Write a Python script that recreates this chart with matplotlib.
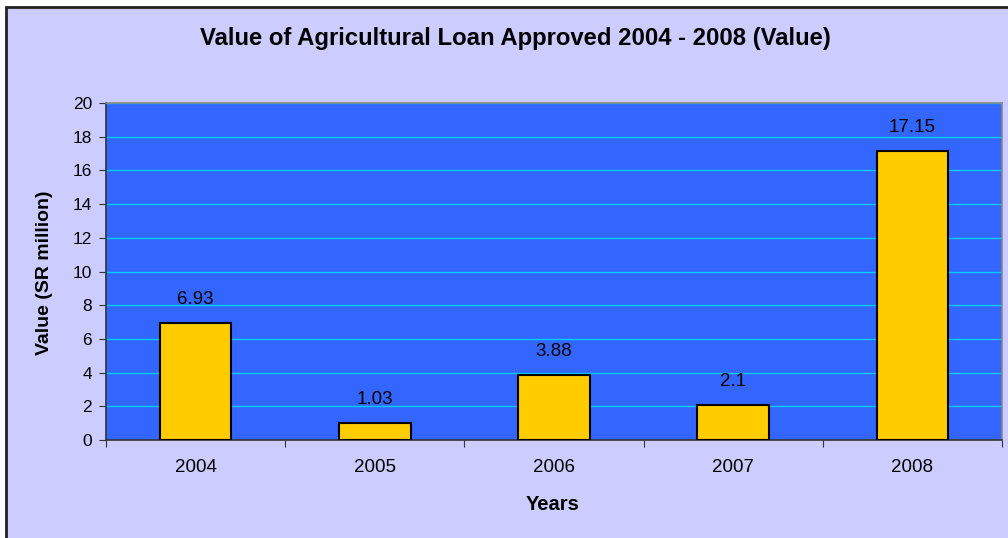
import matplotlib
matplotlib.use("Agg")
import matplotlib.pyplot as plt
from matplotlib.patches import Rectangle

years = ["2004", "2005", "2006", "2007", "2008"]
values = [6.93, 1.03, 3.88, 2.1, 17.15]
labels = ["6.93", "1.03", "3.88", "2.1", "17.15"]
yticks = [0, 2, 4, 6, 8, 10, 12, 14, 16, 18, 20]

W, H = 1008, 538
fig = plt.figure(figsize=(W / 100, H / 100), dpi=100)
fig.patch.set_facecolor("white")
# chart area background with black border (left/top)
bg = Rectangle((6 / W, -0.01), 1.05, (H - 7) / H + 0.01, transform=fig.transFigure,
               facecolor="#CCCCFF", edgecolor="#222222", linewidth=2, zorder=-10)
fig.patches.append(bg)

L, R, T, B = 106, 1002, 103, 440
ax = fig.add_axes([L / W, (H - B) / H, (R - L) / W, (B - T) / H])
ax.set_facecolor("#3366FF")

font = "Liberation Sans"
x = list(range(len(years)))
ax.bar(x, values, width=0.4, color="#FFCC00", edgecolor="black", linewidth=1.5, zorder=3)
for xi, v, lab in zip(x, values, labels):
    ax.annotate(lab, (xi, v), xytext=(0, 17), textcoords="offset points",
                ha="center", va="center", fontsize=13.5, family=font, color="black", zorder=4)

ax.set_xlim(-0.5, len(years) - 0.5)
ax.set_ylim(0, 20)
ax.set_yticks(yticks)
ax.set_yticklabels([str(t) for t in yticks], fontsize=12.5, family=font)
ax.yaxis.grid(True, color="#00CCFF", linewidth=1.0, zorder=1)
ax.set_axisbelow(True)

ax.set_xticks([i - 0.5 for i in range(len(years) + 1)])
ax.set_xticklabels([])
ax.set_xticks(x, minor=True)
ax.set_xticklabels(years, minor=True, fontsize=13.5, family=font)
ax.tick_params(axis="x", which="minor", length=0, pad=14)
ax.tick_params(axis="x", which="major", length=5, color="#333333", direction="out")
ax.tick_params(axis="y", length=5, color="#333333", direction="out", pad=5)

for s in ["left", "bottom"]:
    ax.spines[s].set_color("#333333")
    ax.spines[s].set_linewidth(1.2)
for s in ["top", "right"]:
    ax.spines[s].set_color("#888888")
    ax.spines[s].set_linewidth(1.2)

fig.text(0.5 * (188 + 843) / W, 1 - 45 / H, "Value of Agricultural Loan Approved 2004 - 2008 (Value)",
         ha="center", va="baseline", fontsize=17.2, fontweight="bold", family=font)
fig.text(45 / W, 1 - 273 / H, "Value (SR million)", rotation=90, ha="center", va="center",
         fontsize=14, fontweight="bold", family=font)
fig.text(553 / W, 1 - 510 / H, "Years", ha="center", va="baseline",
         fontsize=14.5, fontweight="bold", family=font)

fig.savefig("out.png", dpi=100)
